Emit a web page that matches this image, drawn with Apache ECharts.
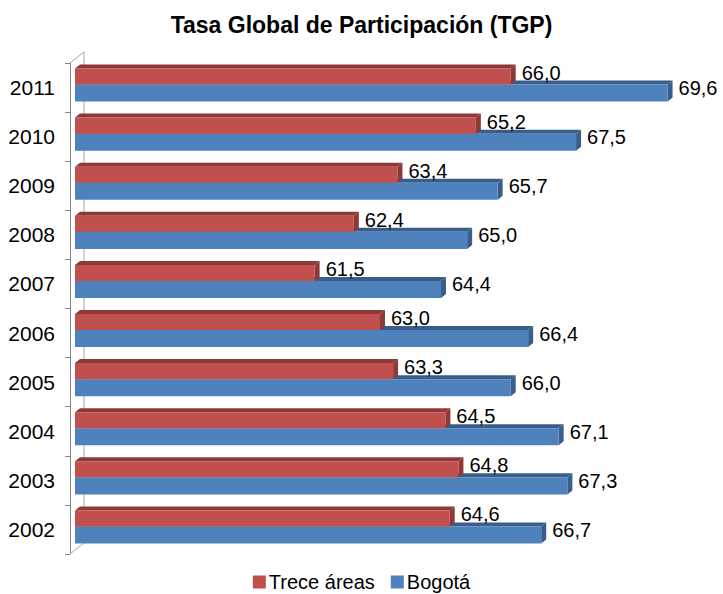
<!DOCTYPE html>
<html>
<head>
<meta charset="utf-8">
<script src="https://cdn.jsdelivr.net/npm/echarts@6/dist/echarts.min.js"></script>
<style>
  html, body { margin: 0; padding: 0; background: #fff; }
  #main { width: 723px; height: 594px; }
</style>
</head>
<body>
<div id="main"></div>
<script>
// data
var years = ['2002', '2003', '2004', '2005', '2006', '2007', '2008', '2009', '2010', '2011'];
var trece = [64.6, 64.8, 64.5, 63.3, 63.0, 61.5, 62.4, 63.4, 65.2, 66.0];
var bogota = [66.7, 67.3, 67.1, 66.0, 66.4, 64.4, 65.0, 65.7, 67.5, 69.6];
var axisMin = 56;
var axisMax = 70;

var FONT = '"Liberation Sans", Arial, sans-serif';

function fmt(v) {
  return v.toFixed(1).replace('.', ',');
}

// draws one 3d-looking bar: front face, top face, side face + label
function box(api, x0, x1, yTop, yBot, front, dark, label, lblDy) {
  var dx = 5, dy = 4;
  return [
    { type: 'polygon', shape: { points: [[x0, yTop], [x1, yTop], [x1 + dx, yTop - dy], [x0 + dx, yTop - dy]] },
      style: { fill: dark } },
    { type: 'polygon', shape: { points: [[x1, yTop], [x1 + dx, yTop - dy], [x1 + dx, yBot - dy], [x1, yBot]] },
      style: { fill: dark } },
    { type: 'rect', shape: { x: x0, y: yTop, width: x1 - x0, height: yBot - yTop },
      style: { fill: front } },
    { type: 'text', x: x1 + 11, y: (yTop + yBot) / 2 + lblDy,
      style: { text: label, fill: '#000', font: '20px ' + FONT, align: 'left', verticalAlign: 'middle' } }
  ];
}

function barItem(kind) {
  return function (params, api) {
    var i = api.value(0);
    var v = api.value(1);
    var c = api.coord([axisMin, i]);
    var e = api.coord([v, i]);
    var band = api.size([0, 1])[1];
    var k = band / 49;
    var yc = c[1];
    if (kind === 'red') {
      return { type: 'group', children: box(api, c[0], e[0], yc - 19 * k, yc - 3 * k, '#C0504D', '#8E3937', fmt(v), -4) };
    }
    return { type: 'group', children: box(api, c[0], e[0], yc - 3 * k, yc + 14 * k, '#4F81BD', '#395E8B', fmt(v), -5) };
  };
}

var myChart = echarts.init(document.getElementById('main'), null, { renderer: 'svg' });

var option = {
  backgroundColor: '#fff',
  animation: false,
  title: {
    text: 'Tasa Global de Participación (TGP)',
    left: 'center',
    top: 8,
    textStyle: { fontFamily: FONT, fontSize: 23, fontWeight: 'bold', color: '#000' }
  },
  legend: {
    data: ['Trece áreas', 'Bogotá'],
    left: 'center',
    top: 571,
    padding: 0,
    icon: 'rect',
    itemWidth: 13,
    itemHeight: 13,
    itemGap: 16,
    textStyle: { fontFamily: FONT, fontSize: 20, lineHeight: 22, color: '#000', padding: [0, 0, 0, -2] }
  },
  grid: { left: 75, right: 38, top: 63, bottom: 40 },
  xAxis: {
    type: 'value',
    min: axisMin,
    max: axisMax,
    show: false
  },
  yAxis: {
    type: 'category',
    data: years,
    offset: 5,
    axisLine: { show: true, lineStyle: { color: '#868686', width: 1 } },
    axisTick: { show: true, length: 5, lineStyle: { color: '#868686' } },
    axisLabel: { color: '#000', fontFamily: FONT, fontSize: 21, margin: 15 },
    splitLine: { show: false }
  },
  series: [
    {
      // back wall line of the 3d frame
      name: 'wall',
      type: 'custom',
      z: 1,
      silent: true,
      data: years.map(function (y, i) { return [i]; }),
      renderItem: function (params, api) {
        var i = api.value(0);
        var c = api.coord([axisMin, i]);
        var band = api.size([0, 1])[1];
        var xa = c[0] - 5, xw = xa + 14, dy = 11;
        var top = c[1] - band / 2, bot = c[1] + band / 2;
        var kids = [{ type: 'line', shape: { x1: xw, y1: top - dy, x2: xw, y2: bot - dy },
          style: { stroke: '#A6A6A6', lineWidth: 1 } }];
        if (i === 0) kids.push({ type: 'line', shape: { x1: xa, y1: bot, x2: xw, y2: bot - dy },
          style: { stroke: '#A6A6A6', lineWidth: 1 } });
        if (i === years.length - 1) kids.push({ type: 'line', shape: { x1: xa, y1: top, x2: xw, y2: top - dy },
          style: { stroke: '#A6A6A6', lineWidth: 1 } });
        return { type: 'group', children: kids };
      }
    },
    {
      name: 'Bogotá',
      type: 'custom',
      z: 2,
      itemStyle: { color: '#4F81BD' },
      data: bogota.map(function (v, i) { return [i, v]; }),
      encode: { x: 1, y: 0 },
      renderItem: barItem('blue')
    },
    {
      name: 'Trece áreas',
      type: 'custom',
      z: 3,
      itemStyle: { color: '#C0504D' },
      data: trece.map(function (v, i) { return [i, v]; }),
      encode: { x: 1, y: 0 },
      renderItem: barItem('red')
    }
  ]
};

myChart.setOption(option);
</script>
</body>
</html>
